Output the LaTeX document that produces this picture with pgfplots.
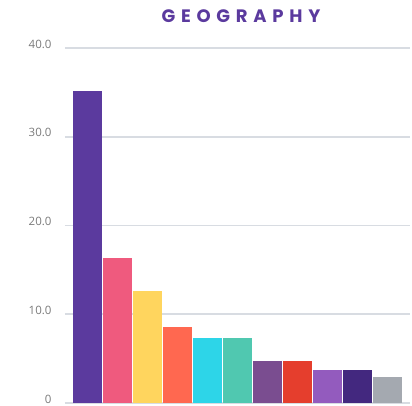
\documentclass[border=0pt]{standalone}
\usepackage{fontspec}
\setmainfont{Open Sans}
\newfontfamily\titlefont[LetterSpace=32]{Poppins}
\usepackage{pgfplots}
\pgfplotsset{compat=1.18}
\definecolor{c1}{HTML}{5B3A9E}
\definecolor{c2}{HTML}{EF5A7E}
\definecolor{c3}{HTML}{FFD55E}
\definecolor{c4}{HTML}{FF6850}
\definecolor{c5}{HTML}{2DD5E8}
\definecolor{c6}{HTML}{50C8B0}
\definecolor{c7}{HTML}{7A4D90}
\definecolor{c8}{HTML}{E53E2D}
\definecolor{c9}{HTML}{935BBE}
\definecolor{c10}{HTML}{43287F}
\definecolor{c11}{HTML}{A4A9B0}
\definecolor{gridc}{HTML}{D8DCE2}
\definecolor{tickc}{HTML}{7A7A7A}
\begin{document}
\begin{tikzpicture}
\path[use as bounding box] (-65pt,-2pt) rectangle (347pt,403pt);
\begin{axis}[
  at={(0pt,0pt)}, anchor=south west,
  scale only axis, width=345pt, height=355pt,
  xmin=-0.75, xmax=10.75, ymin=0, ymax=40,
  axis line style={draw=none},
  xtick=\empty,
  ytick={0,10,20,30,40},
  yticklabels={0,10.0,20.0,30.0,40.0},
  yticklabel style={font=\fontsize{11.5}{13}\selectfont, text=tickc, xshift=-10pt, yshift=4pt},
  major tick length=0pt,
  ymajorgrids, grid style={gridc, line width=1.8pt},
  ybar, bar width=29pt, bar shift=0pt,
  every axis plot/.append style={draw=none},
  clip=false,
]
\addplot[fill=c1] coordinates {(0,35.2)};
\addplot[fill=c2] coordinates {(1,16.3)};
\addplot[fill=c3] coordinates {(2,12.6)};
\addplot[fill=c4] coordinates {(3,8.6)};
\addplot[fill=c5] coordinates {(4,7.3)};
\addplot[fill=c6] coordinates {(5,7.3)};
\addplot[fill=c7] coordinates {(6,4.7)};
\addplot[fill=c8] coordinates {(7,4.7)};
\addplot[fill=c9] coordinates {(8,3.7)};
\addplot[fill=c10] coordinates {(9,3.7)};
\addplot[fill=c11] coordinates {(10,2.9)};
\end{axis}
\node[text=c1, font=\titlefont\bfseries\fontsize{18}{21}\selectfont] at (176pt,387pt) {GEOGRAPHY};
\end{tikzpicture}
\end{document}
